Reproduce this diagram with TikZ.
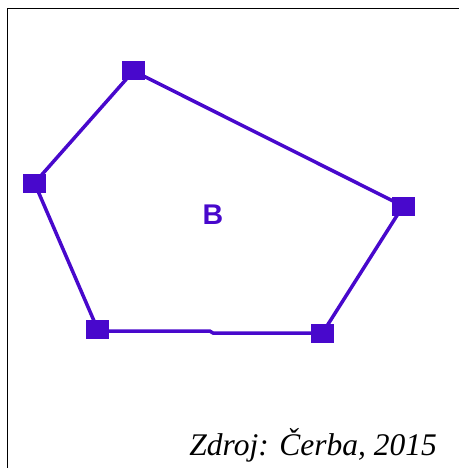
\documentclass[tikz,border=0pt]{standalone}
\usepackage{fontspec}
\setmainfont{Liberation Serif}
\newfontfamily\labelfont{Liberation Sans}
\definecolor{poly}{RGB}{72,8,204}
\begin{document}
\begin{tikzpicture}[x=1pt,y=-1pt,
  vtx/.style={fill=poly,draw=none,minimum width=23pt,minimum height=19pt,inner sep=0pt,rectangle},
  edge/.style={draw=poly,line width=3.5pt}]
\useasboundingbox (0,0) rectangle (459,468);
\draw[line width=1.5pt] (7.5,468) -- (7.5,8.3) -- (459,8.3);
\coordinate (pt) at (133.5,71);
\coordinate (pl) at (34.5,183);
\coordinate (pr) at (403,206);
\coordinate (pbl) at (97.5,329);
\coordinate (pbr) at (322.5,333);
\coordinate (pm1) at (210,331.2);
\coordinate (pm2) at (213,333);
\draw[edge] (pt) -- (pr) -- (pbr) -- (pm2) -- (pm1) -- (97.5,331.2) -- (pbl) -- (pl) -- cycle;
\node[vtx] (t) at (pt) {};
\node[vtx] (l) at (pl) {};
\node[vtx] (r) at (pr) {};
\node[vtx] (bl) at (pbl) {};
\node[vtx] (br) at (pbr) {};
\node[text=poly,font=\labelfont\bfseries\fontsize{28.5}{30}\selectfont] (B) at (213,215) {B};
\node[anchor=base east,font=\itshape\fontsize{31.5}{36}\selectfont,inner sep=0pt] (src) at (437,455) {Zdroj: Čerba, 2015};
\end{tikzpicture}
\end{document}
